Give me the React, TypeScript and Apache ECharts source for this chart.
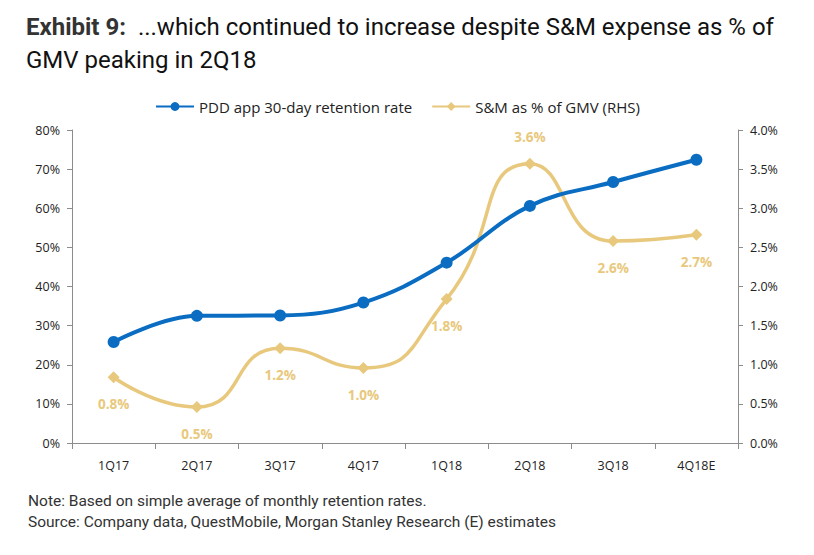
import React, { useEffect, useRef } from "react";
import * as echarts from "echarts";

const categories = ["1Q17", "2Q17", "3Q17", "4Q17", "1Q18", "2Q18", "3Q18", "4Q18E"];
const retention = [25.8, 32.5, 32.6, 35.9, 46.1, 60.6, 66.7, 72.4];
const smPctGmv = [0.84, 0.46, 1.21, 0.96, 1.84, 3.57, 2.58, 2.66];
const smLabels = ["0.8%", "0.5%", "1.2%", "1.0%", "1.8%", "3.6%", "2.6%", "2.7%"];

const BLUE = "#0A6DC2";
const GOLD = "#E8C87C";
const AXIS = "#8c8c8c";
const FONT = "'Open Sans', 'Noto Sans', sans-serif";

export default function App() {
  const ref = useRef<HTMLDivElement>(null);
  useEffect(() => {
    const chart = echarts.init(ref.current!, null, { renderer: "svg" });
    chart.setOption({
      animation: false,
      backgroundColor: "#ffffff",
      title: [
        {
          text: "{b|Exhibit 9:}  ...which continued to increase despite S&M expense as % of\nGMV peaking in 2Q18",
          left: 13,
          top: -3,
          textStyle: {
            fontFamily: "Roboto, sans-serif",
            fontSize: 24,
            fontWeight: "normal",
            color: "#111",
            lineHeight: 33,
            rich: {
              b: { fontFamily: "Roboto, sans-serif", fontSize: 24, fontWeight: "bold", color: "#333", lineHeight: 33 },
            },
          },
        },
        {
          text: "Note: Based on simple average of monthly retention rates.\nSource: Company data, QuestMobile, Morgan Stanley Research (E) estimates",
          left: 15,
          top: 477,
          textStyle: {
            fontFamily: "Roboto, sans-serif",
            fontSize: 15.5,
            fontWeight: "normal",
            color: "#333",
            lineHeight: 21,
          },
        },
      ],
      legend: {
        top: 86,
        left: 142,
        itemGap: 19,
        itemWidth: 38,
        itemHeight: 11,
        textStyle: { fontFamily: FONT, fontSize: 15, color: "#222" },
        data: [
          { name: "PDD app 30-day retention rate" },
          { name: "S&M as % of GMV (RHS)" },
        ],
      },
      grid: { left: 64, right: 76, top: 122, bottom: 112, containLabel: false },
      xAxis: {
        type: "category",
        data: categories,
        boundaryGap: true,
        axisLine: { lineStyle: { color: AXIS } },
        axisTick: { show: true, length: 6, lineStyle: { color: AXIS } },
        axisLabel: { fontFamily: FONT, fontSize: 12.5, color: "#222", margin: 16 },
      },
      yAxis: [
        {
          type: "value",
          min: 0,
          max: 80,
          interval: 10,
          axisLine: { show: true, lineStyle: { color: AXIS } },
          axisTick: { show: true, length: 5, lineStyle: { color: AXIS } },
          splitLine: { show: false },
          axisLabel: { fontFamily: FONT, fontSize: 12.5, color: "#222", formatter: "{value}%", margin: 12 },
        },
        {
          type: "value",
          min: 0,
          max: 4,
          interval: 0.5,
          position: "right",
          axisLine: { show: true, lineStyle: { color: AXIS } },
          axisTick: { show: true, length: 5, lineStyle: { color: AXIS } },
          splitLine: { show: false },
          axisLabel: {
            fontFamily: FONT,
            fontSize: 12.5,
            color: "#222",
            margin: 12,
            formatter: (v: number) => v.toFixed(1) + "%",
          },
        },
      ],
      series: [
        {
          name: "S&M as % of GMV (RHS)",
          type: "line",
          yAxisIndex: 1,
          smooth: 0.55,
          data: smPctGmv.map((v, i) =>
            i === 5 ? { value: v, label: { position: "top", distance: 14 } } : v
          ),
          symbol: "diamond",
          symbolSize: 12,
          itemStyle: { color: GOLD },
          lineStyle: { color: GOLD, width: 3.5 },
          label: {
            show: true,
            position: "bottom",
            distance: 14,
            fontFamily: FONT,
            fontSize: 13.5,
            fontWeight: "bold",
            color: GOLD,
            formatter: (p: any) => smLabels[p.dataIndex],
          },
          z: 2,
        },
        {
          name: "PDD app 30-day retention rate",
          type: "line",
          yAxisIndex: 0,
          smooth: 0.4,
          data: retention,
          symbol: "circle",
          symbolSize: 12,
          itemStyle: { color: BLUE },
          lineStyle: { color: BLUE, width: 4 },
          z: 3,
        },
      ],
    });
    return () => chart.dispose();
  }, []);
  return <div ref={ref} style={{ width: 806, height: 547 }} />;
}
